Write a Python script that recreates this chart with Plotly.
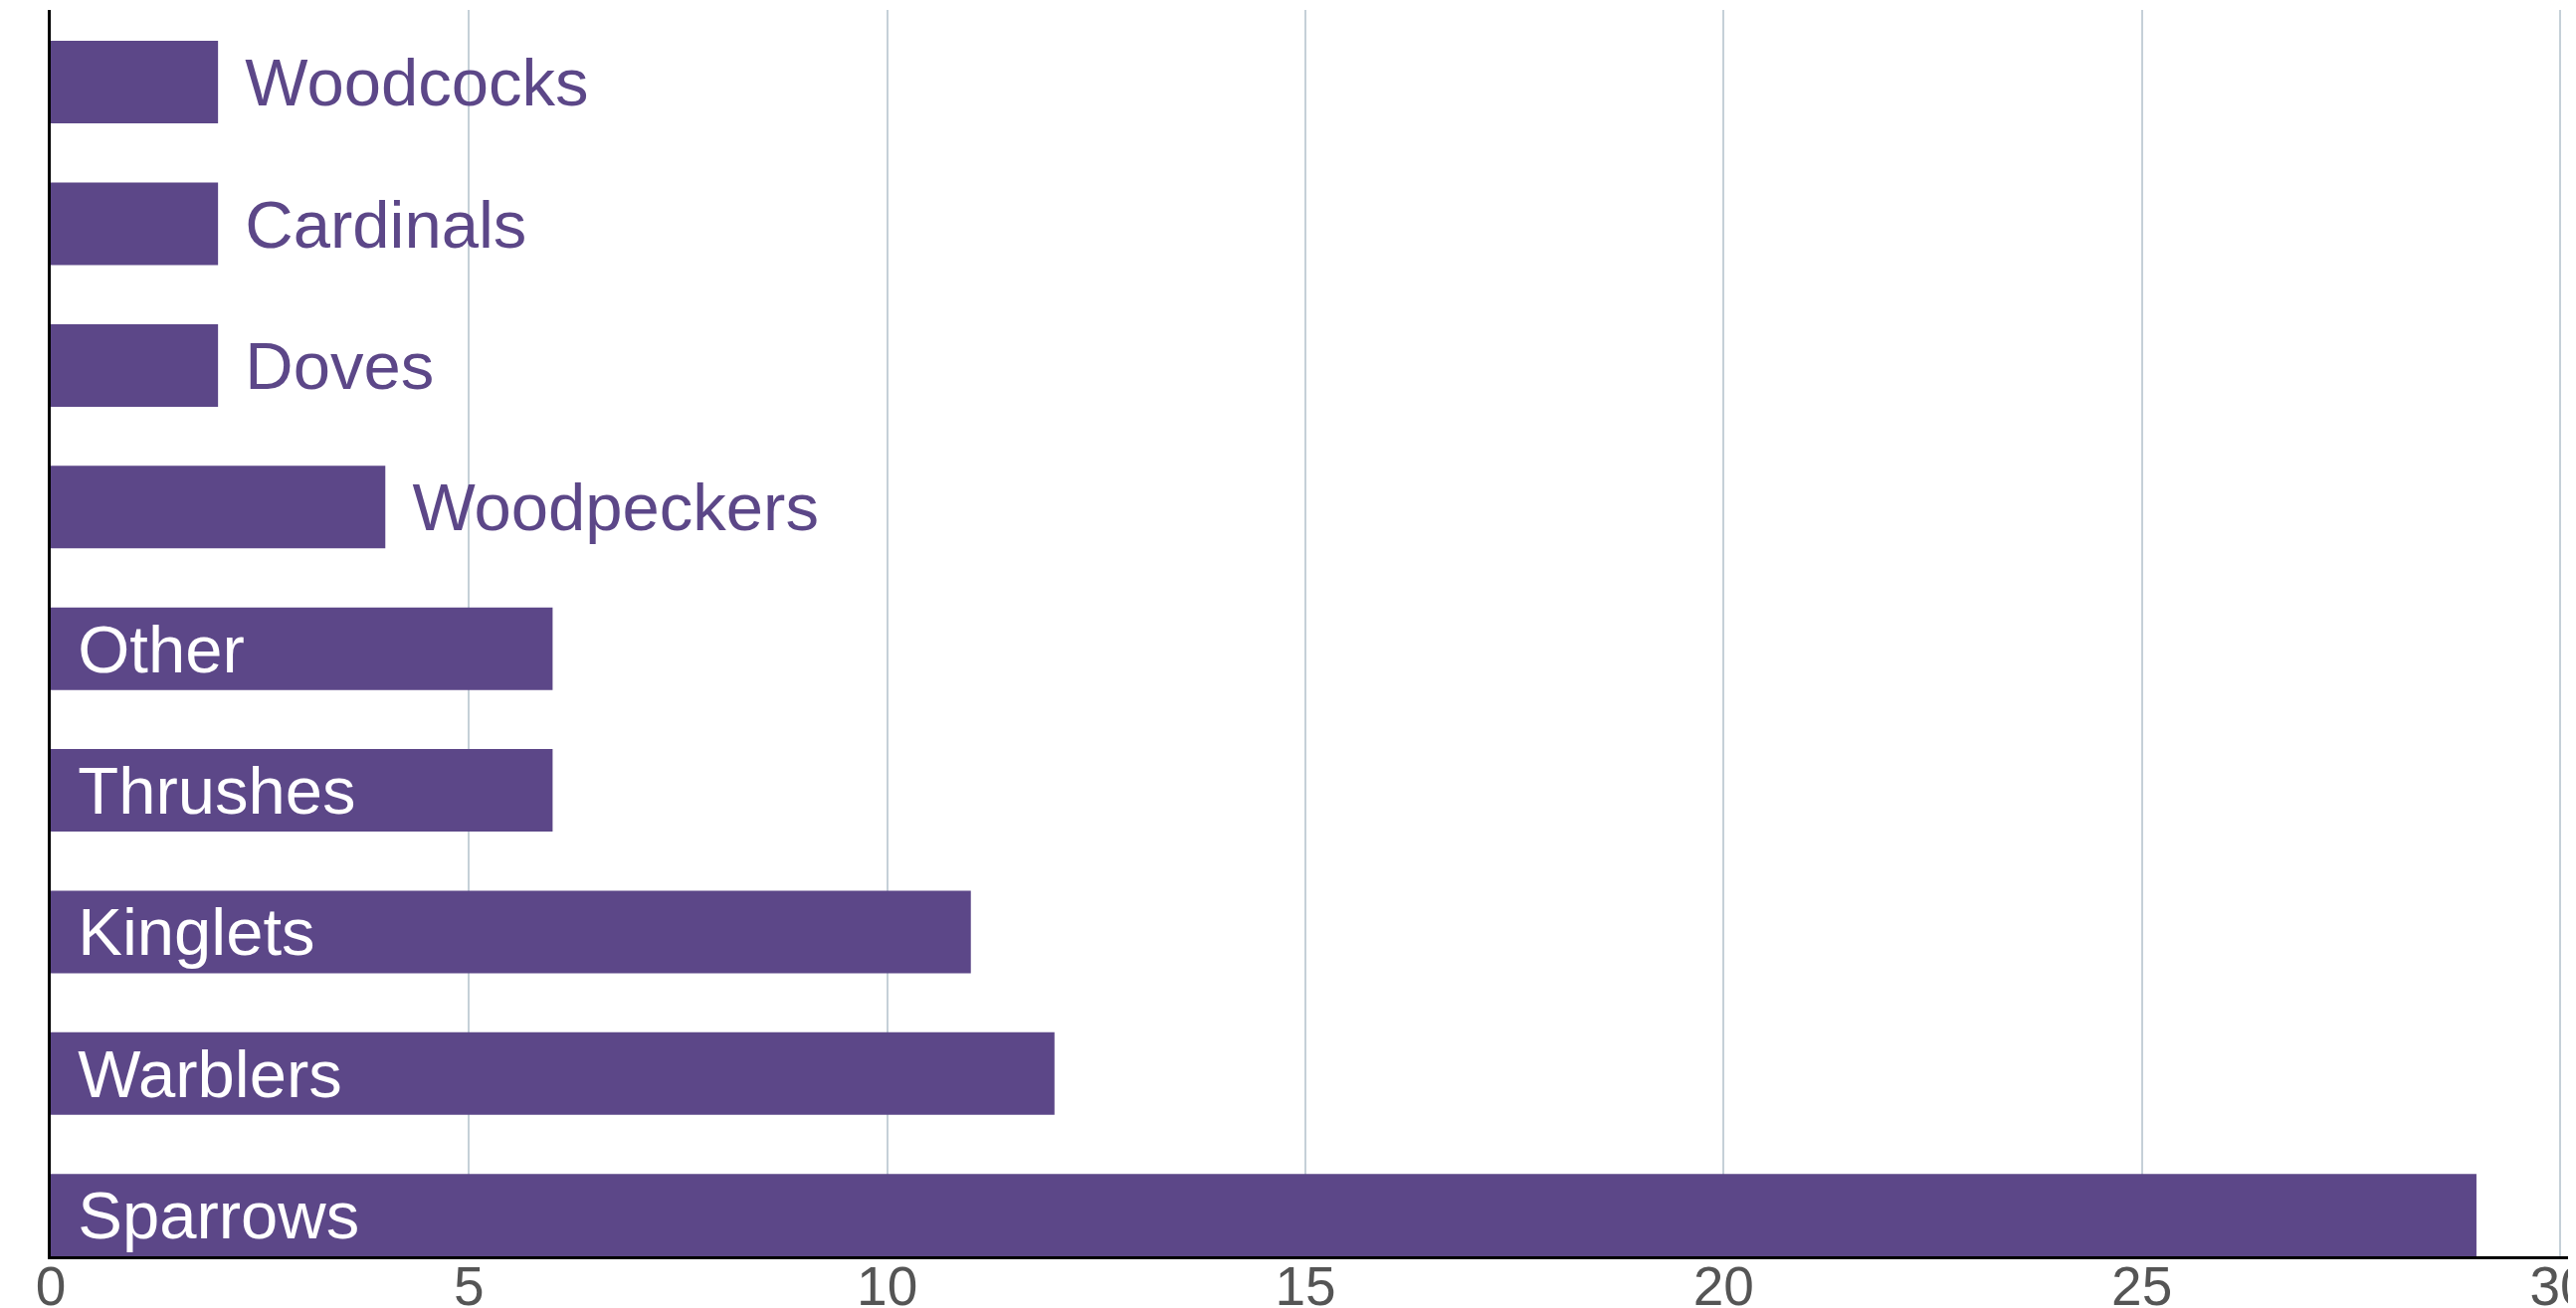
import plotly.graph_objects as go

categories = ["Woodcocks", "Cardinals", "Doves", "Woodpeckers", "Other",
              "Thrushes", "Kinglets", "Warblers", "Sparrows"]
values = [2, 2, 2, 4, 6, 6, 11, 12, 29]
x_ticks = [0, 5, 10, 15, 20, 25, 30]

BAR = "#5c4788"
OUTSIDE_LIMIT = 5
PAD = "\u00a0\u200a"

fig = go.Figure()
out_idx = [i for i, v in enumerate(values) if v < OUTSIDE_LIMIT]
in_idx = [i for i, v in enumerate(values) if v >= OUTSIDE_LIMIT]

fig.add_trace(go.Bar(
    y=[categories[i] for i in out_idx], x=[values[i] for i in out_idx],
    orientation="h", marker=dict(color=BAR, line=dict(width=0)),
    text=[PAD + categories[i] for i in out_idx], textposition="outside",
    outsidetextfont=dict(family="Liberation Sans, Arial", size=67, color=BAR),
    constraintext="none", cliponaxis=False, hoverinfo="skip", showlegend=False,
))
fig.add_trace(go.Bar(
    y=[categories[i] for i in in_idx], x=[values[i] for i in in_idx],
    orientation="h", marker=dict(color=BAR, line=dict(width=0)),
    text=[PAD + categories[i] for i in in_idx], textposition="inside",
    insidetextanchor="start",
    insidetextfont=dict(family="Liberation Sans, Arial", size=67, color="white"),
    constraintext="none", hoverinfo="skip", showlegend=False,
))

fig.update_layout(
    width=2581, height=1307,
    margin=dict(l=43, r=0, t=2, b=52, autoexpand=False),
    paper_bgcolor="white", plot_bgcolor="white",
    bargap=0.417, barmode="overlay",
    uniformtext=dict(minsize=67, mode="show"),
    xaxis=dict(range=[0, 30.19], tickvals=x_ticks, showgrid=True,
               gridcolor="#c5d0d8", gridwidth=2, zeroline=False,
               showline=True, linecolor="black", linewidth=3,
               tickfont=dict(family="Liberation Sans, Arial", size=55, color="#555555"),
               ticks="", ticklabelstandoff=-20, ticklabeloverflow="allow",
               automargin=False),
    yaxis=dict(categoryorder="array", categoryarray=categories,
               range=[8.29, -0.51], showticklabels=False, showgrid=False,
               zeroline=False, showline=True, linecolor="black", linewidth=3,
               ticks="", automargin=False),
)

fig.write_html("out.html")
